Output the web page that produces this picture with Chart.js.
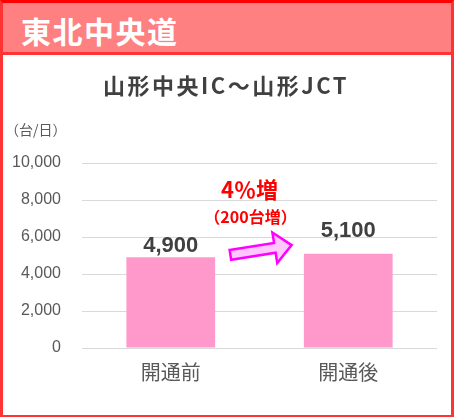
<!DOCTYPE html>
<html>
<head>
<meta charset="utf-8">
<script src="https://cdn.jsdelivr.net/npm/chart.js@4.4.1/dist/chart.umd.min.js"></script>
<style>
  html, body { margin: 0; padding: 0; background: #fff; }
  #frame {
    position: absolute; left: 0; top: 0; width: 454px; height: 417px;
    box-sizing: border-box; border: 3px solid #FF3333; border-top-color: #FF0000; border-bottom-width: 2px;
  }
  #head {
    position: absolute; left: 0; top: 0; right: 0; height: 49px;
    background: #FF8080; border-bottom: 3px solid #FF3333;
  }
  #head span {
    position: absolute; left: 18px; top: 5px; line-height: 30px;
    color: #fff; font: bold 30px "Noto Sans CJK JP"; letter-spacing: 1.5px;
  }
  #chart { position: absolute; left: 0; top: 0; }
</style>
</head>
<body>
<div id="frame"><div id="head"><span>東北中央道</span></div></div>
<canvas id="chart" width="454" height="417"></canvas>
<script>
// data
const categories = ['開通前', '開通後'];
const traffic = [4900, 5100];
const yTicks = [0, 2000, 4000, 6000, 8000, 10000];
const chartTitle = '山形中央IC～山形JCT';
const unitLabel = '（台/日）';
const changeLabel = '4％増';
const changeSub = '（200台増）';

// gap between bar top and its value label (the original labels are placed by hand)
const labelGap = [5.5, 16.5];

const fmtNum = v => v.toLocaleString('en-US');

const overlay = {
  id: 'overlay',
  afterDatasetsDraw(chart) {
    const { ctx, scales: { x, y } } = chart;
    ctx.save();

    // chart title
    ctx.fillStyle = '#404040';
    ctx.font = 'bold 22px "Noto Sans CJK JP"';
    ctx.letterSpacing = '2.5px';
    ctx.textAlign = 'center';
    ctx.textBaseline = 'middle';
    ctx.fillText(chartTitle, 226, 86);
    ctx.letterSpacing = '0px';

    // unit label
    ctx.fillStyle = '#595959';
    ctx.font = '14px "Noto Sans CJK JP"';
    ctx.textAlign = 'left';
    ctx.fillText(unitLabel, 5, 130);

    // value labels
    ctx.fillStyle = '#404040';
    ctx.font = 'bold 22px "Liberation Sans"';
    ctx.textAlign = 'center';
    ctx.textBaseline = 'alphabetic';
    traffic.forEach((v, i) => {
      ctx.fillText(fmtNum(v), x.getPixelForValue(i), y.getPixelForValue(v) - labelGap[i]);
    });

    // change annotation
    const midX = (x.getPixelForValue(0) + x.getPixelForValue(1)) / 2;
    ctx.fillStyle = '#FF0000';
    ctx.textBaseline = 'middle';
    ctx.font = 'bold 22px "Noto Sans CJK JP"';
    ctx.fillText(changeLabel, midX - 10, 190);
    ctx.font = 'bold 16px "Noto Sans CJK JP"';
    ctx.fillText(changeSub, midX - 9, 217);

    // arrow
    const ax = midX + 1.5;
    const ay = y.getPixelForValue((traffic[0] + traffic[1]) / 2) - 5.5;
    ctx.translate(ax, ay);
    ctx.rotate(-9 * Math.PI / 180);
    const half = 31, shaft = 5, headH = 15.5, headL = 17;
    ctx.beginPath();
    ctx.moveTo(-half, -shaft);
    ctx.lineTo(half - headL, -shaft);
    ctx.lineTo(half - headL, -headH);
    ctx.lineTo(half, 0);
    ctx.lineTo(half - headL, headH);
    ctx.lineTo(half - headL, shaft);
    ctx.lineTo(-half, shaft);
    ctx.closePath();
    ctx.fillStyle = '#FFC6FF';
    ctx.fill();
    ctx.lineWidth = 2.5;
    ctx.strokeStyle = '#FF00FF';
    ctx.lineJoin = 'miter';
    ctx.stroke();

    ctx.restore();
  }
};

new Chart(document.getElementById('chart'), {
  type: 'bar',
  data: {
    labels: categories,
    datasets: [{
      data: traffic,
      backgroundColor: '#FF99CC',
      borderWidth: 0,
      barPercentage: 0.5,
      categoryPercentage: 1.0,
    }],
  },
  options: {
    responsive: false,
    animation: false,
    events: [],
    layout: { padding: { top: 163, right: 17, left: 0, bottom: 0 } },
    plugins: { legend: { display: false }, tooltip: { enabled: false } },
    scales: {
      x: {
        grid: { display: false },
        border: { display: false },
        ticks: { color: '#595959', font: { family: '"Noto Sans CJK JP"', size: 20 }, padding: 4 },
        afterFit: s => { s.height = 69; },
      },
      y: {
        min: yTicks[0],
        max: yTicks[yTicks.length - 1],
        ticks: {
          stepSize: yTicks[1] - yTicks[0],
          color: '#595959',
          font: { family: '"Liberation Sans"', size: 16 },
          padding: 21,
          callback: v => fmtNum(v),
        },
        grid: { color: '#D9D9D9', lineWidth: 1, drawTicks: false },
        border: { display: false },
        afterFit: s => { s.width = 82; },
      },
    },
  },
  plugins: [overlay],
});
</script>
</body>
</html>
